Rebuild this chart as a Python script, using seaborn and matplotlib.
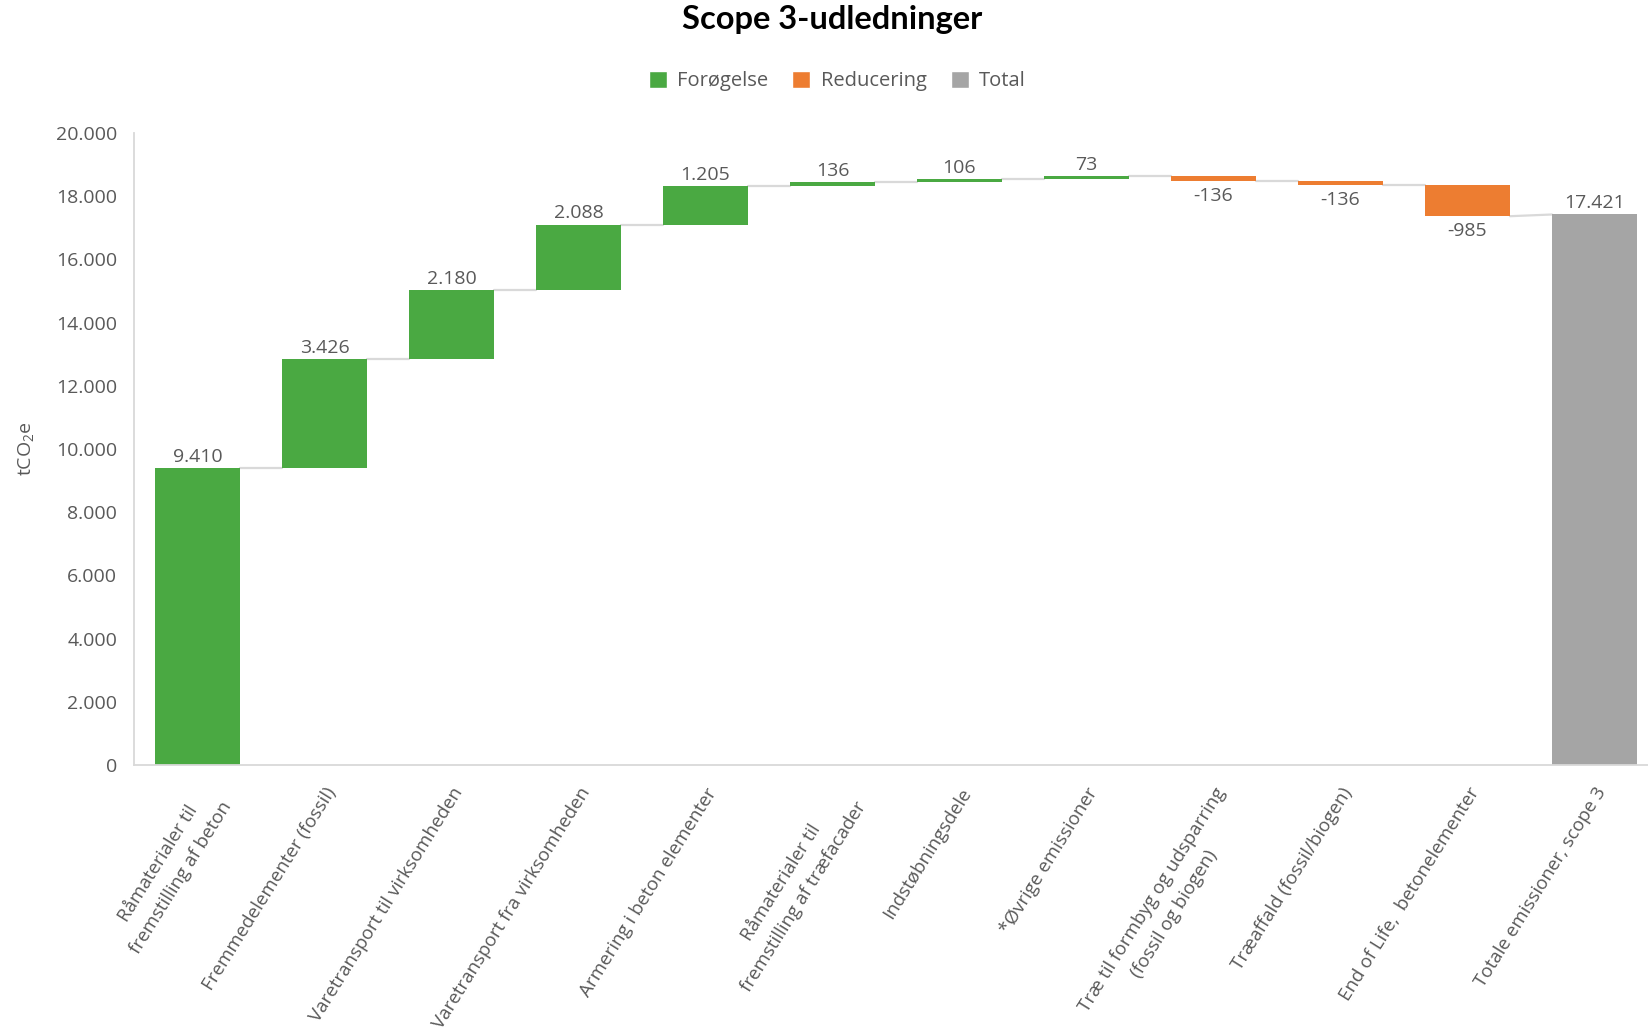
import numpy as np
import pandas as pd
import matplotlib
matplotlib.use("Agg")
import matplotlib.pyplot as plt
from matplotlib.patches import Patch
import seaborn as sns

# Data
categories = [
    "Råmaterialer til\nfremstilling af beton",
    "Fremmedelementer (fossil)",
    "Varetransport til virksomheden",
    "Varetransport fra virksomheden",
    "Armering i beton elementer",
    "Råmaterialer til\nfremstilling af træfacader",
    "Indstøbningsdele",
    "*Øvrige emissioner",
    "Træ til formbyg og udsparring\n(fossil og biogen)",
    "Træaffald (fossil/biogen)",
    "End of Life,  betonelementer",
    "Totale emissioner, scope 3",
]
changes = [9410, 3426, 2180, 2088, 1205, 136, 106, 73, -136, -136, -985]
total = 17421
yticks = [0, 2000, 4000, 6000, 8000, 10000, 12000, 14000, 16000, 18000, 20000]

GREEN = "#4AA942"
ORANGE = "#ED7D31"
GREY = "#A5A5A5"
TEXT = "#595959"
LINE = "#D9D9D9"

sns.set_theme(style="white")
plt.rcParams["font.family"] = ["Open Sans", "DejaVu Sans"]


def fmt(v):
    return f"{v:,.0f}".replace(",", ".")


# running totals for the waterfall
ends = np.cumsum(changes)
starts = np.concatenate([[0], ends[:-1]])
bases = list(np.minimum(starts, ends)) + [0]
heights = list(np.abs(changes)) + [total]
colors = [GREEN if c > 0 else ORANGE for c in changes] + [GREY]
df = pd.DataFrame({"cat": categories, "height": heights, "base": bases})

fig = plt.figure(figsize=(16.48, 10.31), dpi=100)
ax = fig.add_axes([134 / 1648, 266 / 1031, 1524 / 1648, 632 / 1031])

width = 0.67
sns.barplot(data=df, x="cat", y="height", bottom=df["base"].values,
            width=width, color=GREEN, ax=ax, saturation=1)
for p, c in zip(ax.patches, colors):
    p.set_facecolor(c)
    p.set_edgecolor("none")

# connector lines: end of one bar to the start of the next
next_start = list(ends[:-1]) + [total]
for i, (e, nxt) in enumerate(zip(ends, next_start)):
    ax.plot([i + width / 2, i + 1 - width / 2], [e, nxt], color=LINE, lw=1.6, zorder=0)

# value labels
for i, c in enumerate(changes):
    if c > 0:
        ax.annotate(fmt(c), (i, ends[i]), xytext=(0, 1.5), textcoords="offset points",
                    ha="center", va="bottom", fontsize=14, color=TEXT)
    else:
        ax.annotate(fmt(c), (i, ends[i]), xytext=(0, -4.5), textcoords="offset points",
                    ha="center", va="top", fontsize=14, color=TEXT)
ax.annotate(fmt(total), (len(changes), total), xytext=(0, 1.5), textcoords="offset points",
            ha="center", va="bottom", fontsize=14, color=TEXT)

ax.set_xlim(-0.5, len(categories) - 0.5)
ax.set_ylim(0, 20000)
ax.set_yticks(yticks)
ax.set_yticklabels([fmt(t) for t in yticks], fontsize=14, color=TEXT)
ax.set_xticks(range(len(categories)))
ax.set_xticklabels(categories, rotation=58, ha="right", va="top", rotation_mode="anchor",
                   multialignment="center", fontsize=13.5, color=TEXT)
for lbl in ax.get_xticklabels():
    lbl.set_linespacing(1.6)
ax.tick_params(axis="both", length=0)
ax.tick_params(axis="y", pad=12)
ax.tick_params(axis="x", pad=14)
ax.set_xlabel("")
ax.set_ylabel("")
for s in ["top", "right"]:
    ax.spines[s].set_visible(False)
for s in ["left", "bottom"]:
    ax.spines[s].set_color(LINE)
    ax.spines[s].set_linewidth(1.3)

fig.text(0.0165, 1 - 449 / 1031, r"tCO$_\mathregular{2}$e", rotation=90,
         ha="center", va="center", fontsize=14, color=TEXT)

fig.text(0.505, 1 - 20 / 1031, "Scope 3-udledninger", ha="center", va="center",
         fontsize=23.5, fontweight="bold", color="black", family=["Lato", "DejaVu Sans"])

handles = [Patch(facecolor=GREEN, label="Forøgelse"),
           Patch(facecolor=ORANGE, label="Reducering"),
           Patch(facecolor=GREY, label="Total")]
leg = fig.legend(handles=handles, loc="center", bbox_to_anchor=(0.508, 1 - 81 / 1031), ncol=3,
                 frameon=False, fontsize=14.5, handlelength=0.9, handleheight=0.9,
                 handletextpad=0.5, columnspacing=1.2)
for t in leg.get_texts():
    t.set_color(TEXT)

fig.savefig("out.png", dpi=100)
